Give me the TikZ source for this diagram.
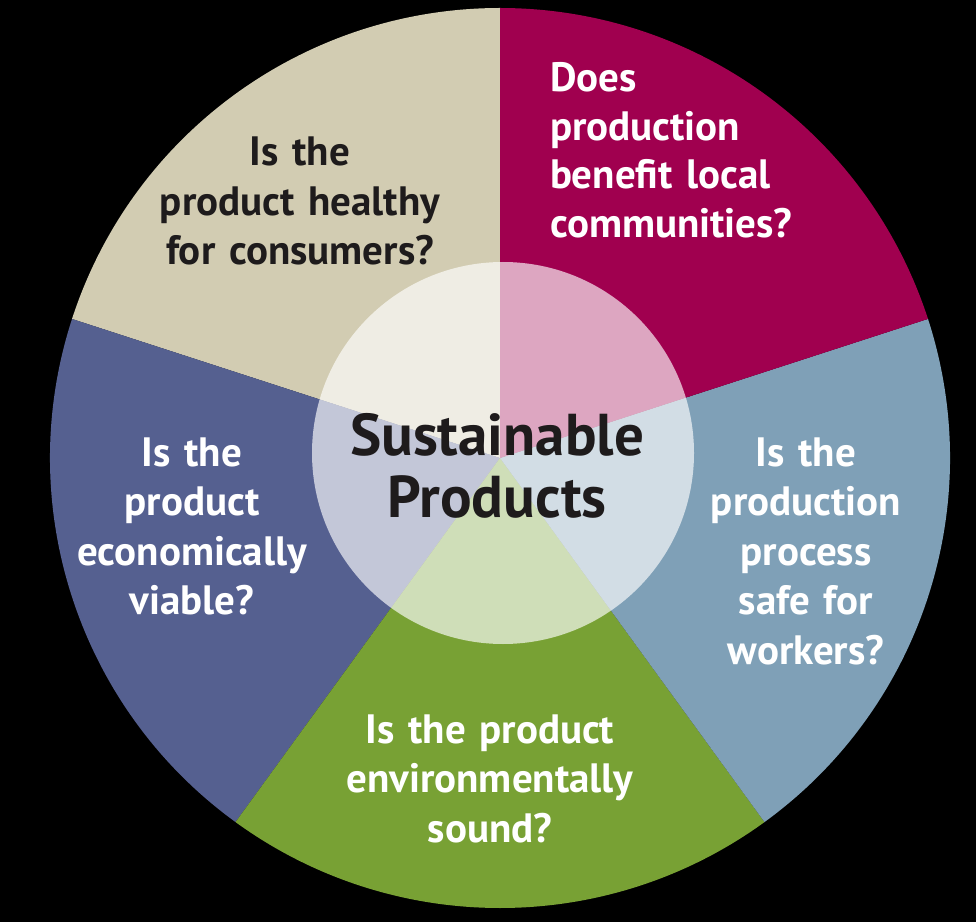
\documentclass[tikz,border=0pt]{standalone}
\usepackage{fontspec}
\setmainfont{PT Sans}
\definecolor{beigeS}{HTML}{D2CCB2}
\definecolor{magS}{HTML}{A0004F}
\definecolor{lblueS}{HTML}{7FA0B7}
\definecolor{dblueS}{HTML}{556090}
\definecolor{greenS}{HTML}{78A134}
\definecolor{darkT}{HTML}{1E1B1C}
\tikzset{
  q/.style={inner sep=0pt, outer sep=0pt, text width=340pt, align=center, anchor=base,
    font=\bfseries\fontsize{41}{49.5}\selectfont},
  ql/.style={inner sep=0pt, outer sep=0pt, text width=340pt, align=left, anchor=base west,
    font=\bfseries\fontsize{41}{48.5}\selectfont}
}
\begin{document}
\begin{tikzpicture}[x=1pt,y=1pt]
\fill[black] (0,0) rectangle (976,922);
\useasboundingbox (0,0) rectangle (976,922);
\coordinate (C) at (500,464);
\coordinate (I) at (503,469);
\fill[beigeS] (C) -- ++(90:450) arc[start angle=90, end angle=162, radius=450] -- cycle;
\fill[dblueS] (C) -- ++(162:450) arc[start angle=162, end angle=234, radius=450] -- cycle;
\fill[greenS] (C) -- ++(234:450) arc[start angle=234, end angle=306, radius=450] -- cycle;
\fill[lblueS] (C) -- ++(306:450) arc[start angle=306, end angle=378, radius=450] -- cycle;
\fill[magS] (C) -- ++(18:450) arc[start angle=18, end angle=90, radius=450] -- cycle;
\fill[white, fill opacity=0.65] (I) circle[radius=191];
\node[q, text=darkT] (health) at (300,756) {Is the\\product healthy\\for consumers?};
\node[ql, text=white] (local) at (550,830) {Does\\production\\benefit local\\communities?};
\node[q, text=white] (econ) at (192,456) {Is the\\product\\economically\\viable?};
\node[q, text=white] (safe) at (806,456) {Is the\\production\\process\\safe for\\workers?};
\node[q, text=white] (env) at (490,179) {Is the product\\environmentally\\sound?};
\node[inner sep=0pt, text width=420pt, align=center, anchor=base, text=darkT,
  font=\bfseries\fontsize{59}{62}\selectfont] (center) at (497,467) {Sustainable\\Products};
\end{tikzpicture}
\end{document}
